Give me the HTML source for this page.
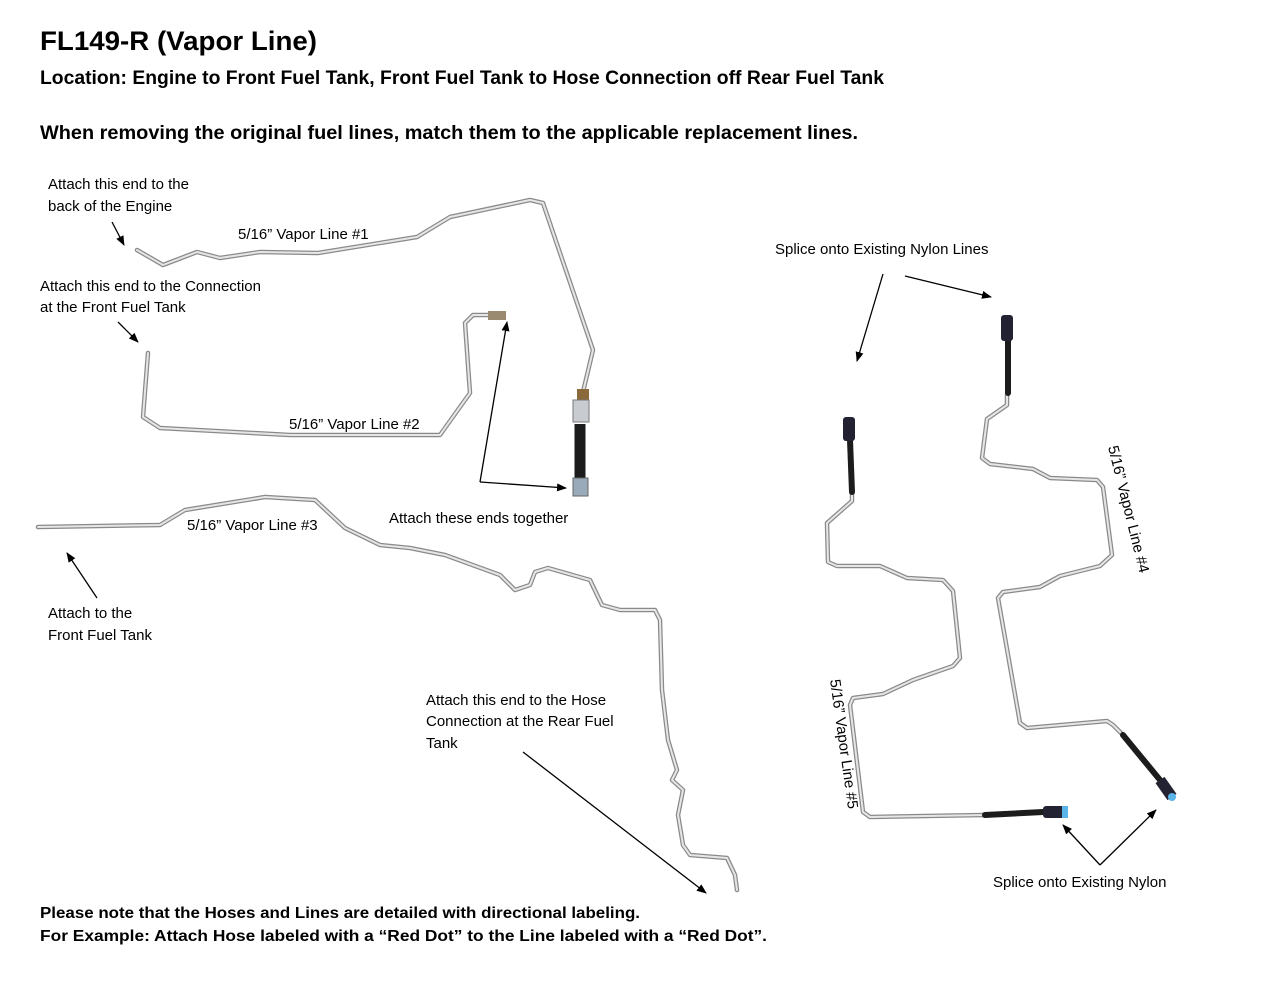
<!DOCTYPE html>
<html><head><meta charset="utf-8"><style>
body{margin:0;background:#fff;}
svg{display:block;font-family:"Liberation Sans",Arial,sans-serif;}
.t{fill:#000;font-size:15px;}
.b{font-weight:bold;fill:#000;}
.o{fill:none;stroke:#8a8a8a;stroke-width:4.5;stroke-linejoin:round;stroke-linecap:round;}
.i{fill:none;stroke:#e6e6e6;stroke-width:2;stroke-linejoin:round;stroke-linecap:round;}
.h{stroke:#1c1c1c;stroke-width:6;stroke-linecap:round;fill:none;}
.a{stroke:#000;stroke-width:1.3;fill:none;marker-end:url(#ah);}
</style></head><body>
<svg width="1280" height="989" viewBox="0 0 1280 989" xmlns="http://www.w3.org/2000/svg">
<defs><marker id="ah" markerWidth="10" markerHeight="8" refX="9" refY="4" orient="auto" markerUnits="userSpaceOnUse"><path d="M0,0 L10,4 L0,8 z" fill="#000"/></marker></defs>
<text x="40" y="50" class="b" font-size="27" textLength="277" lengthAdjust="spacingAndGlyphs">FL149-R (Vapor Line)</text>
<text x="40" y="84" class="b" font-size="19" textLength="844" lengthAdjust="spacingAndGlyphs">Location: Engine to Front Fuel Tank, Front Fuel Tank to Hose Connection off Rear Fuel Tank</text>
<text x="40" y="139" class="b" font-size="19.5" textLength="818" lengthAdjust="spacingAndGlyphs">When removing the original fuel lines, match them to the applicable replacement lines.</text>

<g id="lines">
<polyline class="o" points="137,250 163,265 197,252 220,258 260,252 318,253 417,237 450,217 530,200 543,203 593,350 583,392"/>
<polyline class="i" points="137,250 163,265 197,252 220,258 260,252 318,253 417,237 450,217 530,200 543,203 593,350 583,392"/>
<rect x="577" y="389" width="12" height="12" fill="#8a6a3a"/>
<rect x="573" y="400" width="16" height="22" fill="#c8ccd0" stroke="#777"/>
<line class="h" x1="580" y1="424" x2="580" y2="478" style="stroke-width:11;stroke-linecap:butt"/>
<rect x="573" y="478" width="15" height="18" fill="#9ab" stroke="#666"/>

<polyline class="o" points="148,353 143,417 160,428 290,435 440,435 470,393 465,323 473,315 492,315"/>
<polyline class="i" points="148,353 143,417 160,428 290,435 440,435 470,393 465,323 473,315 492,315"/>
<rect x="488" y="311" width="18" height="9" fill="#9a8a70"/>

<polyline class="o" points="38,527 160,525 185,510 265,497 315,500 345,528 380,545 410,548 445,555 500,575 515,590 530,585 535,572 548,568 590,580 602,605 620,610 655,610 660,620 662,690 668,740 677,770 672,780 683,790 678,815 683,845 690,855 727,858 735,875 737,890"/>
<polyline class="i" points="38,527 160,525 185,510 265,497 315,500 345,528 380,545 410,548 445,555 500,575 515,590 530,585 535,572 548,568 590,580 602,605 620,610 655,610 660,620 662,690 668,740 677,770 672,780 683,790 678,815 683,845 690,855 727,858 735,875 737,890"/>

<polyline class="o" points="852,494 852,501 827,523 828,562 837,566 880,566 907,578 943,580 953,591 960,658 953,666 913,680 883,694 853,698 850,705 863,812 870,817 985,815"/>
<polyline class="i" points="852,494 852,501 827,523 828,562 837,566 880,566 907,578 943,580 953,591 960,658 953,666 913,680 883,694 853,698 850,705 863,812 870,817 985,815"/>
<line class="h" x1="850" y1="440" x2="852" y2="492"/>
<rect x="843" y="417" width="12" height="24" rx="3" fill="#223"/>
<line class="h" x1="985" y1="815" x2="1043" y2="812"/>
<rect x="1043" y="806" width="24" height="12" rx="3" fill="#223"/>
<rect x="1062" y="806" width="6" height="12" fill="#5ab4e8"/>

<polyline class="o" points="1007,395 1007,405 987,419 982,458 990,464 1033,469 1050,478 1097,480 1103,487 1112,555 1100,566 1060,576 1040,587 1003,592 998,598 1020,723 1027,728 1107,721 1113,725 1123,735"/>
<polyline class="i" points="1007,395 1007,405 987,419 982,458 990,464 1033,469 1050,478 1097,480 1103,487 1112,555 1100,566 1060,576 1040,587 1003,592 998,598 1020,723 1027,728 1107,721 1113,725 1123,735"/>
<line class="h" x1="1008" y1="340" x2="1008" y2="393"/>
<rect x="1001" y="315" width="12" height="26" rx="3" fill="#223"/>
<line class="h" x1="1123" y1="735" x2="1160" y2="780"/>
<line x1="1160" y1="780" x2="1172" y2="797" stroke="#223" stroke-width="11"/>
<circle cx="1172" cy="797" r="4" fill="#5ab4e8"/>
</g>

<text x="48" y="189" class="t">Attach this end to the</text>
<text x="48" y="211" class="t">back of the Engine</text>
<line class="a" x1="112" y1="222" x2="124" y2="245"/>
<text x="238" y="239" class="t">5/16” Vapor Line #1</text>
<text x="40" y="291" class="t">Attach this end to the Connection</text>
<text x="40" y="312" class="t">at the Front Fuel Tank</text>
<line class="a" x1="118" y1="322" x2="138" y2="342"/>
<text x="289" y="429" class="t">5/16”  Vapor Line #2</text>
<line class="a" x1="480" y1="482" x2="507" y2="322"/>
<line class="a" x1="480" y1="482" x2="566" y2="488"/>
<text x="389" y="523" class="t">Attach these ends together</text>
<text x="187" y="530" class="t">5/16” Vapor Line #3</text>
<line class="a" x1="97" y1="598" x2="67" y2="553"/>
<text x="48" y="618" class="t">Attach to the</text>
<text x="48" y="640" class="t">Front Fuel Tank</text>
<text x="426" y="705" class="t">Attach this end to the Hose</text>
<text x="426" y="726" class="t">Connection at the Rear Fuel</text>
<text x="426" y="748" class="t">Tank</text>
<line class="a" x1="523" y1="752" x2="706" y2="893"/>
<text x="775" y="254" class="t">Splice onto Existing Nylon Lines</text>
<line class="a" x1="883" y1="274" x2="857" y2="361"/>
<line class="a" x1="905" y1="276" x2="991" y2="297"/>
<text x="1108" y="447" class="t" transform="rotate(76 1108 447)">5/16” Vapor Line #4</text>
<text x="830" y="680" class="t" transform="rotate(82 830 680)">5/16” Vapor Line #5</text>
<line class="a" x1="1100" y1="865" x2="1063" y2="825"/>
<line class="a" x1="1100" y1="865" x2="1156" y2="810"/>
<text x="993" y="887" class="t">Splice onto Existing Nylon</text>
<text x="40" y="918" class="b" font-size="16" textLength="600" lengthAdjust="spacingAndGlyphs">Please note that the Hoses and Lines are detailed with directional labeling.</text>
<text x="40" y="941" class="b" font-size="16" textLength="727" lengthAdjust="spacingAndGlyphs">For Example: Attach Hose labeled with a “Red Dot” to the Line labeled with a “Red Dot”.</text>
</svg>
</body></html>
